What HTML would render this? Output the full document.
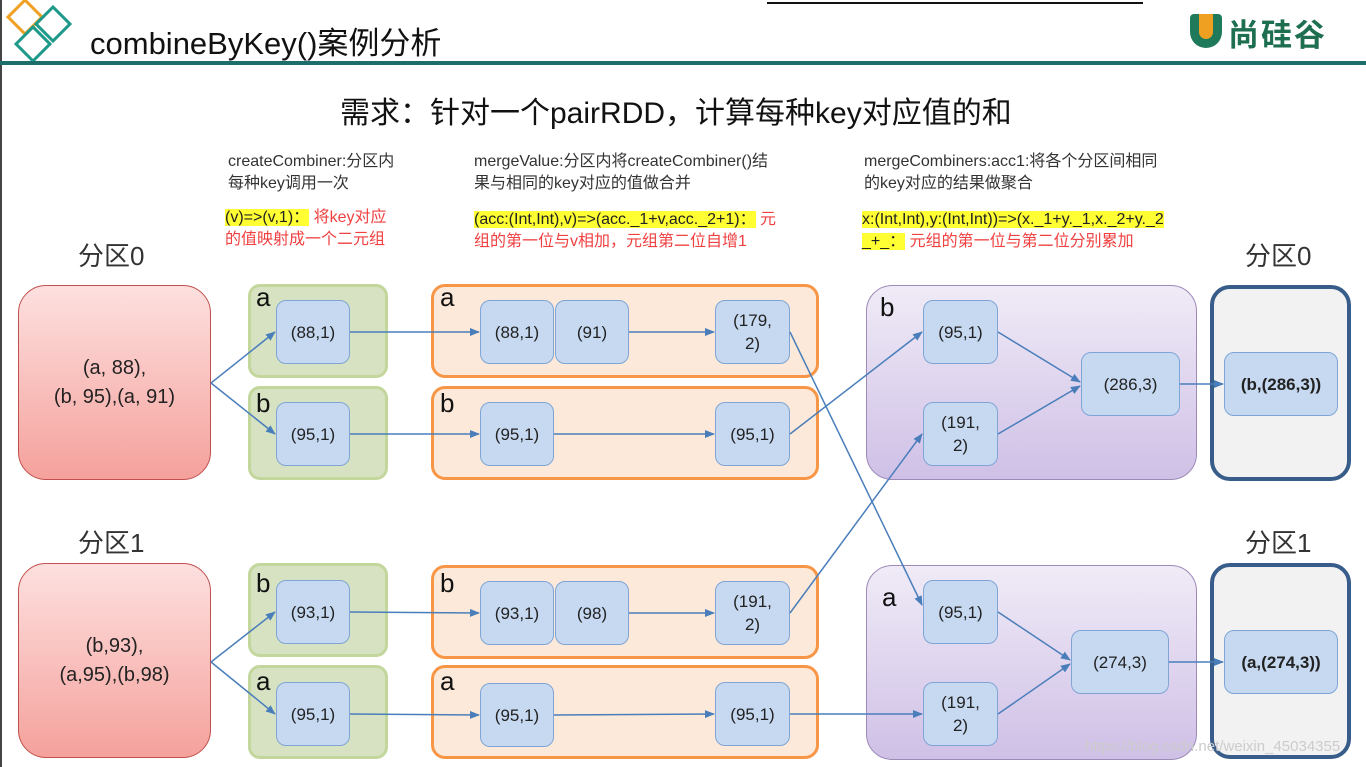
<!DOCTYPE html>
<html><head><meta charset="utf-8"><style>
*{margin:0;padding:0;box-sizing:border-box}
body{width:1366px;height:767px;background:#fff;position:relative;overflow:hidden;font-family:"Liberation Sans","Noto Sans CJK SC",sans-serif;color:#222}
.a{position:absolute}
.n{position:absolute;background:#c6d9f1;border:1px solid #7fa5d6;border-radius:10px;display:flex;align-items:center;justify-content:center;text-align:center;font-size:17px;line-height:23px;color:#222}
.g{position:absolute;background:#d7e2c2;border:3px solid #c3d69b;border-radius:12px}
.o{position:absolute;background:#fde9d9;border:3px solid #f79646;border-radius:14px}
.p{position:absolute;border:1.5px solid #9d8ab8;border-radius:26px;background:linear-gradient(#f0ebf7,#cfc0e6)}
.r{position:absolute;border:1.5px solid #c0504d;border-radius:28px;background:linear-gradient(#fde0df,#f5a19c);display:flex;align-items:center;justify-content:center;text-align:center;font-size:20px;line-height:29px}
.d{position:absolute;border:4px solid #385d8a;border-radius:20px;background:#f2f2f2}
.k{position:absolute;font-size:26px;color:#111}
.lab{position:absolute;font-size:26px;color:#333}
.t{position:absolute;font-size:16px;line-height:22px;color:#333}
.red{color:#f04040}
.hl{background:#ffff33;color:#222}
</style></head><body>
<div class="a" style="left:0;top:0;width:2px;height:767px;background:#444"></div>
<div class="a" style="left:767px;top:2px;width:376px;height:2px;background:#111"></div>
<svg class="a" style="left:0;top:0" width="100" height="70">
<rect x="13" y="5" width="24" height="24" transform="rotate(45 25 17)" fill="none" stroke="#f0a020" stroke-width="3"/>
<rect x="41" y="12" width="24" height="24" transform="rotate(45 53 24)" fill="none" stroke="#1e9a8a" stroke-width="3"/>
<rect x="21" y="32" width="24" height="24" transform="rotate(45 33 44)" fill="none" stroke="#1e9a8a" stroke-width="3"/>
</svg>
<div class="a" style="left:90px;top:18px;font-size:31px;color:#111">combineByKey()案例分析</div>
<div class="a" style="left:0;top:61px;width:1366px;height:4px;background:#1d6e6a"></div>
<div class="a" style="left:1190px;top:14px;width:32px;height:34px;border-radius:4px 4px 16px 16px;background:#1e7a5a"></div>
<div class="a" style="left:1199px;top:14px;width:14px;height:25px;border-radius:0 0 7px 7px;background:#f0a020"></div>
<div class="a" style="left:1228px;top:10px;font-size:31px;font-weight:bold;color:#1e6e50;letter-spacing:2px">尚硅谷</div>
<div class="a" style="left:340px;top:88px;font-size:30px;color:#111">需求：针对一个pairRDD，计算每种key对应值的和</div>

<div class="t" style="left:228px;top:151px">createCombiner:分区内<br>每种key调用一次</div>
<div class="t red" style="left:225px;top:207px"><span class="hl">(v)=&gt;(v,1)：</span> 将key对应<br>的值映射成一个二元组</div>
<div class="t" style="left:474px;top:151px">mergeValue:分区内将createCombiner()结<br>果与相同的key对应的值做合并</div>
<div class="t red" style="left:474px;top:209px"><span class="hl">(acc:(Int,Int),v)=&gt;(acc._1+v,acc._2+1)：</span> 元<br>组的第一位与v相加，元组第二位自增1</div>
<div class="t" style="left:864px;top:151px">mergeCombiners:acc1:将各个分区间相同<br>的key对应的结果做聚合</div>
<div class="t red" style="left:862px;top:209px"><span class="hl">x:(Int,Int),y:(Int,Int))=&gt;(x._1+y._1,x._2+y._2</span><br><span class="hl">_+_：</span> 元组的第一位与第二位分别累加</div>

<div class="lab" style="left:78px;top:236px">分区0</div>
<div class="lab" style="left:1245px;top:236px">分区0</div>
<div class="lab" style="left:78px;top:523px">分区1</div>
<div class="lab" style="left:1245px;top:523px">分区1</div>

<div class="r" style="left:18px;top:285px;width:193px;height:195px">(a, 88),<br>(b, 95),(a, 91)</div>
<div class="r" style="left:18px;top:563px;width:193px;height:195px">(b,93),<br>(a,95),(b,98)</div>

<div class="g" style="left:248px;top:284px;width:140px;height:94px"></div>
<div class="g" style="left:248px;top:386px;width:140px;height:94px"></div>
<div class="g" style="left:248px;top:563px;width:140px;height:94px"></div>
<div class="g" style="left:248px;top:665px;width:140px;height:94px"></div>
<div class="k" style="left:256px;top:282px">a</div>
<div class="k" style="left:256px;top:388px">b</div>
<div class="k" style="left:256px;top:568px">b</div>
<div class="k" style="left:256px;top:666px">a</div>

<div class="o" style="left:431px;top:284px;width:388px;height:94px"></div>
<div class="o" style="left:431px;top:386px;width:388px;height:94px"></div>
<div class="o" style="left:431px;top:565px;width:388px;height:94px"></div>
<div class="o" style="left:431px;top:665px;width:388px;height:94px"></div>
<div class="k" style="left:440px;top:282px">a</div>
<div class="k" style="left:440px;top:388px">b</div>
<div class="k" style="left:440px;top:568px">b</div>
<div class="k" style="left:440px;top:666px">a</div>

<div class="p" style="left:866px;top:285px;width:331px;height:195px"></div>
<div class="p" style="left:866px;top:565px;width:331px;height:195px"></div>
<div class="k" style="left:880px;top:292px">b</div>
<div class="k" style="left:882px;top:582px">a</div>

<div class="d" style="left:1210px;top:285px;width:141px;height:196px"></div>
<div class="d" style="left:1210px;top:563px;width:141px;height:196px"></div>

<div class="n" style="left:276px;top:300px;width:74px;height:64px">(88,1)</div>
<div class="n" style="left:276px;top:402px;width:74px;height:64px">(95,1)</div>
<div class="n" style="left:276px;top:580px;width:74px;height:64px">(93,1)</div>
<div class="n" style="left:276px;top:682px;width:74px;height:64px">(95,1)</div>

<div class="n" style="left:480px;top:300px;width:74px;height:64px">(88,1)</div>
<div class="n" style="left:555px;top:300px;width:74px;height:64px">(91)</div>
<div class="n" style="left:715px;top:300px;width:75px;height:64px">(179,<br>2)</div>
<div class="n" style="left:480px;top:402px;width:74px;height:64px">(95,1)</div>
<div class="n" style="left:715px;top:402px;width:75px;height:64px">(95,1)</div>
<div class="n" style="left:480px;top:581px;width:74px;height:64px">(93,1)</div>
<div class="n" style="left:555px;top:581px;width:74px;height:64px">(98)</div>
<div class="n" style="left:715px;top:581px;width:75px;height:64px">(191,<br>2)</div>
<div class="n" style="left:480px;top:683px;width:74px;height:64px">(95,1)</div>
<div class="n" style="left:715px;top:682px;width:75px;height:64px">(95,1)</div>

<div class="n" style="left:923px;top:300px;width:75px;height:64px">(95,1)</div>
<div class="n" style="left:923px;top:402px;width:75px;height:64px">(191,<br>2)</div>
<div class="n" style="left:1081px;top:352px;width:99px;height:64px">(286,3)</div>
<div class="n" style="left:923px;top:580px;width:75px;height:64px">(95,1)</div>
<div class="n" style="left:923px;top:682px;width:75px;height:64px">(191,<br>2)</div>
<div class="n" style="left:1071px;top:630px;width:98px;height:64px">(274,3)</div>

<div class="n" style="left:1224px;top:352px;width:114px;height:64px;font-weight:bold">(b,(286,3))</div>
<div class="n" style="left:1224px;top:630px;width:114px;height:64px;font-weight:bold">(a,(274,3))</div>

<svg class="a" style="left:0;top:0" width="1366" height="767">
<defs><marker id="m" markerWidth="10" markerHeight="8" refX="9" refY="4" orient="auto" markerUnits="userSpaceOnUse"><path d="M0,0 L10,4 L0,8 z" fill="#4a7ebb"/></marker></defs>
<g stroke="#4a7ebb" stroke-width="1.5" fill="none" marker-end="url(#m)">
<line x1="211" y1="383" x2="275" y2="332"/>
<line x1="211" y1="383" x2="275" y2="434"/>
<line x1="211" y1="662" x2="275" y2="612"/>
<line x1="211" y1="662" x2="275" y2="714"/>
<line x1="350" y1="332" x2="479" y2="332"/>
<line x1="350" y1="434" x2="479" y2="434"/>
<line x1="350" y1="612" x2="479" y2="613"/>
<line x1="350" y1="714" x2="479" y2="715"/>
<line x1="629" y1="332" x2="714" y2="332"/>
<line x1="554" y1="434" x2="714" y2="434"/>
<line x1="629" y1="613" x2="714" y2="613"/>
<line x1="554" y1="715" x2="714" y2="714"/>
<line x1="790" y1="332" x2="922" y2="605"/>
<line x1="790" y1="434" x2="922" y2="332"/>
<line x1="790" y1="613" x2="922" y2="434"/>
<line x1="790" y1="714" x2="922" y2="714"/>
<line x1="998" y1="332" x2="1080" y2="382"/>
<line x1="998" y1="434" x2="1080" y2="386"/>
<line x1="1180" y1="384" x2="1223" y2="384"/>
<line x1="998" y1="612" x2="1070" y2="660"/>
<line x1="998" y1="714" x2="1070" y2="664"/>
<line x1="1169" y1="662" x2="1223" y2="662"/>
</g>
</svg>
<div class="a" style="left:1085px;top:738px;font-size:15px;color:#ccc">https://blog.csdn.net/weixin_45034355</div>
</body></html>
